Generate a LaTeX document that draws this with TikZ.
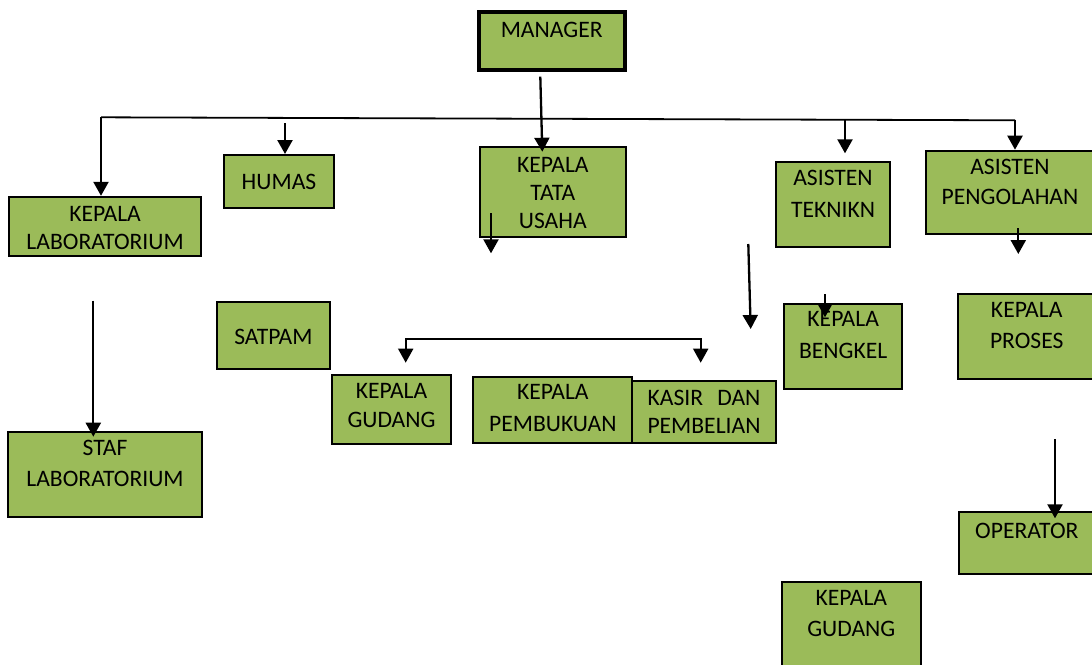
\documentclass[tikz,border=0pt]{standalone}
\usepackage{fontspec}
\setmainfont{Carlito}
\usetikzlibrary{arrows.meta}
\definecolor{boxgreen}{HTML}{9BBB59}

\begin{document}
\begin{tikzpicture}[x=1pt,y=-1pt,
  box/.style={draw, fill=boxgreen, line width=2pt, inner sep=0pt, align=center,
    font=\fontsize{23.6}{28}\selectfont},
  tpos/.style 2 args={text height=#1, text depth=#2},
  arr/.style={-{Triangle[width=15pt,length=14pt]}, line width=2.3pt}]
  \useasboundingbox (0,0) rectangle (1092,664);

  \node[box, line width=4pt, minimum width=146pt, minimum height=58.3pt, tpos={0pt}{6.9pt}] (man) at (551.7,41.2) {MANAGER};
  \node[box, minimum width=191.8pt, minimum height=59pt, tpos={46.3pt}{0pt}] (klab) at (105.1,226.3) {KEPALA\\LABORATORIUM};
  \node[box, minimum width=110pt, minimum height=52.5pt, tpos={17.4pt}{0pt}] (hum) at (279,181.25) {HUMAS};
  \node[box, minimum width=145.7pt, minimum height=90pt, tpos={73.1pt}{0pt}] (ktu) at (552.8,191.7) {KEPALA\\TATA\\USAHA};
  \node[box, minimum width=114pt, minimum height=85pt, tpos={26.5pt}{0pt}] (tek) at (833,204.2) {ASISTEN\\[3.7pt]TEKNIKN};
  \node[box, minimum width=168pt, minimum height=83.6pt, tpos={24.9pt}{0pt}] (peng) at (1010,192.5) {ASISTEN\\[2.3pt]PENGOLAHAN};
  \node[box, minimum width=113.3pt, minimum height=66.7pt, tpos={17.1pt}{0pt}] (sat) at (273.4,335.7) {SATPAM};
  \node[box, minimum width=118.4pt, minimum height=69pt, tpos={35.5pt}{0pt}] (kgd) at (391.5,409.5) {KEPALA\\[1pt]GUDANG};
  \node[box, minimum width=159pt, minimum height=66pt, tpos={42.7pt}{0pt}] (kpb) at (552.8,410.3) {KEPALA\\[3.7pt]PEMBUKUAN};
  \node[box, minimum width=143.4pt, minimum height=62.6pt, tpos={43.3pt}{0pt}] (ksr) at (704,412) {KASIR\hspace{0.6em}DAN\\PEMBELIAN};
  \node[box, minimum width=118.3pt, minimum height=84.7pt, tpos={24.7pt}{0pt}] (kbk) at (843.2,346.3) {KEPALA\\[4pt]BENGKEL};
  \node[box, minimum width=136.7pt, minimum height=84.7pt, tpos={25.3pt}{0pt}] (kps) at (1026.7,336.3) {KEPALA\\[3.5pt]PROSES};
  \node[box, minimum width=193.4pt, minimum height=85pt, tpos={24.9pt}{0pt}] (staf) at (105,474.2) {STAF\\[3pt]LABORATORIUM};
  \node[box, minimum width=135.6pt, minimum height=62.6pt, tpos={0pt}{8.1pt}] (opr) at (1026.8,543) {OPERATOR};
  \node[box, minimum width=139.3pt, minimum height=108.3pt, tpos={0.8pt}{0pt}] (kgd2) at (851.3,635.85) {KEPALA\\[3pt]GUDANG};

  \coordinate (barL) at (101,117.3);
  \coordinate (barR) at (1015,120.3);
  \coordinate (mtop) at (540.3,76.7);
  \coordinate (hs) at (285,123.3);
  \coordinate (ts) at (845,120);
  \coordinate (tt) at (845,153.3);
  \coordinate (ku1) at (491,213.3);
  \coordinate (ku2) at (491,253.3);
  \coordinate (bkL) at (405.7,362.7);
  \coordinate (bkR) at (700.7,362.7);
  \coordinate (ka1) at (748.3,244);
  \coordinate (ka2) at (750.7,329);
  \coordinate (kb1) at (825,294);
  \coordinate (kb2) at (825,317.3);
  \coordinate (pg1) at (1018.3,228);
  \coordinate (pg2) at (1018.3,254);
  \coordinate (sl1) at (93.3,300.7);
  \coordinate (sl2) at (93.3,436.7);
  \coordinate (op1) at (1055,439);
  \coordinate (op2) at (1055,518.3);

  \draw[line width=1.8pt] (barL) -- (barR);
  \draw[arr] (barL) -- (barL |- klab.north);
  \draw[arr] (mtop) -- ([xshift=-10.5pt,yshift=-6pt]ktu.north);
  \draw[arr] (hs) -- (hs |- hum.north);
  \draw[arr] (ts) -- (tt);
  \draw[arr] (barR) -- (barR |- peng.north);
  \draw[arr] (ku1) -- (ku2);
  \draw[line width=1.8pt, {Triangle[width=15pt,length=14pt]}-{Triangle[width=15pt,length=14pt]}] (bkL) -- ++(0,-23.7) -| (bkR);
  \draw[arr] (ka1) -- (ka2);
  \draw[arr] (kb1) -- (kb2);
  \draw[arr] (pg1) -- (pg2);
  \draw[arr] (sl1) -- (sl2);
  \draw[arr] (op1) -- (op2);
\end{tikzpicture}
\end{document}
